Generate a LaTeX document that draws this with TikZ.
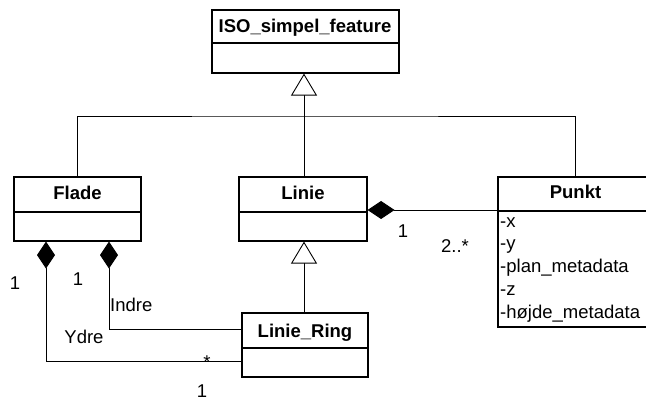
\documentclass[tikz,border=0pt]{standalone}
\usepackage{fontspec}
\setmainfont{Liberation Sans}
\usetikzlibrary{arrows.meta}
\begin{document}
\begin{tikzpicture}[x=1pt,y=-1pt,
  every node/.style={font=\fontsize{18.5}{22}\selectfont, inner sep=0pt},
  cls/.style={draw, line width=1.2pt, rectangle, fill=white},
  divider/.style={line width=1.2pt},
  title/.style={anchor=base, font=\fontsize{18.5}{22}\selectfont\bfseries},
  attr/.style={anchor=base west},
  lbl/.style={anchor=base},
  link/.style={line width=0.9pt},
  gen/.style={link, -{Triangle[open, length=22pt, width=26pt, fill=white]}},
  comp/.style={link, {Diamond[length=27pt, width=18pt, fill=black]}-}
]
\useasboundingbox (0,0) rectangle (646,401);

% class boxes
\node[cls, minimum width=187pt, minimum height=63pt] (iso) at (305.5,41.5) {};
\node[cls, minimum width=127pt, minimum height=64pt] (flade) at (77.5,209) {};
\node[cls, minimum width=128pt, minimum height=64pt] (linie) at (303,209) {};
\node[cls, minimum width=126pt, minimum height=64pt] (ring) at (305,345) {};
\node[cls, minimum width=154pt, minimum height=150pt] (punkt) at (575,252) {};

% compartment dividers
\draw[divider] (iso.west |- 0,43) -- (iso.east |- 0,43);
\draw[divider] (flade.west |- 0,212) -- (flade.east |- 0,212);
\draw[divider] (linie.west |- 0,212) -- (linie.east |- 0,212);
\draw[divider] (ring.west |- 0,348) -- (ring.east |- 0,348);
\draw[divider] (punkt.west |- 0,211) -- (punkt.east |- 0,211);

% class names
\node[title] (isoT) at (305,33) {ISO\_simpel\_feature};
\node[title] (fladeT) at (77.5,200) {Flade};
\node[title] (linieT) at (303,200) {Linie};
\node[title] (ringT) at (305,337) {Linie\_Ring};
\node[title] (punktT) at (575.5,199) {Punkt};

% attributes of Punkt
\node[attr] (ax) at (500,228) {-x};
\node[attr] (ay) at (500,250) {-y};
\node[attr] (ap) at (500,272.5) {-plan\_metadata};
\node[attr] (az) at (500,295) {-z};
\node[attr] (ah) at (500,318) {-højde\_metadata};

% generalisation to ISO_simpel_feature
\coordinate (hub) at (304,116);
\draw[link] (flade.north -| 77,0) |- (hub) -| (punkt.north);
\draw[link] (linie.north -| hub) -- (hub);
\draw[gen] (hub) -- (hub |- iso.south);

% Linie_Ring specialises Linie
\draw[gen] (ring.north -| 304,0) -- (linie.south -| 304,0);

% Linie composed of Punkt
\draw[comp] (linie.east |- 0,210) -- (punkt.west |- 0,210);

% Flade composed of Linie_Ring (outer and inner rings)
\draw[comp] (flade.south -| 46,0) |- (ring.west |- 0,361);
\draw[comp] (flade.south -| 109,0) |- (ring.west |- 0,329);

% multiplicities and role names
\node[lbl] (m1) at (15,289) {1};
\node[lbl] (m2) at (78,286) {1};
\node[attr] (indre) at (110,311) {Indre};
\node[lbl] (ydre) at (84,343) {Ydre};
\node[lbl] (m3) at (207,368) {*};
\node[lbl] (m4) at (202,397) {1};
\node[lbl] (m5) at (403,238) {1};
\node[lbl] (m6) at (455,252) {2..*};
\end{tikzpicture}
\end{document}
